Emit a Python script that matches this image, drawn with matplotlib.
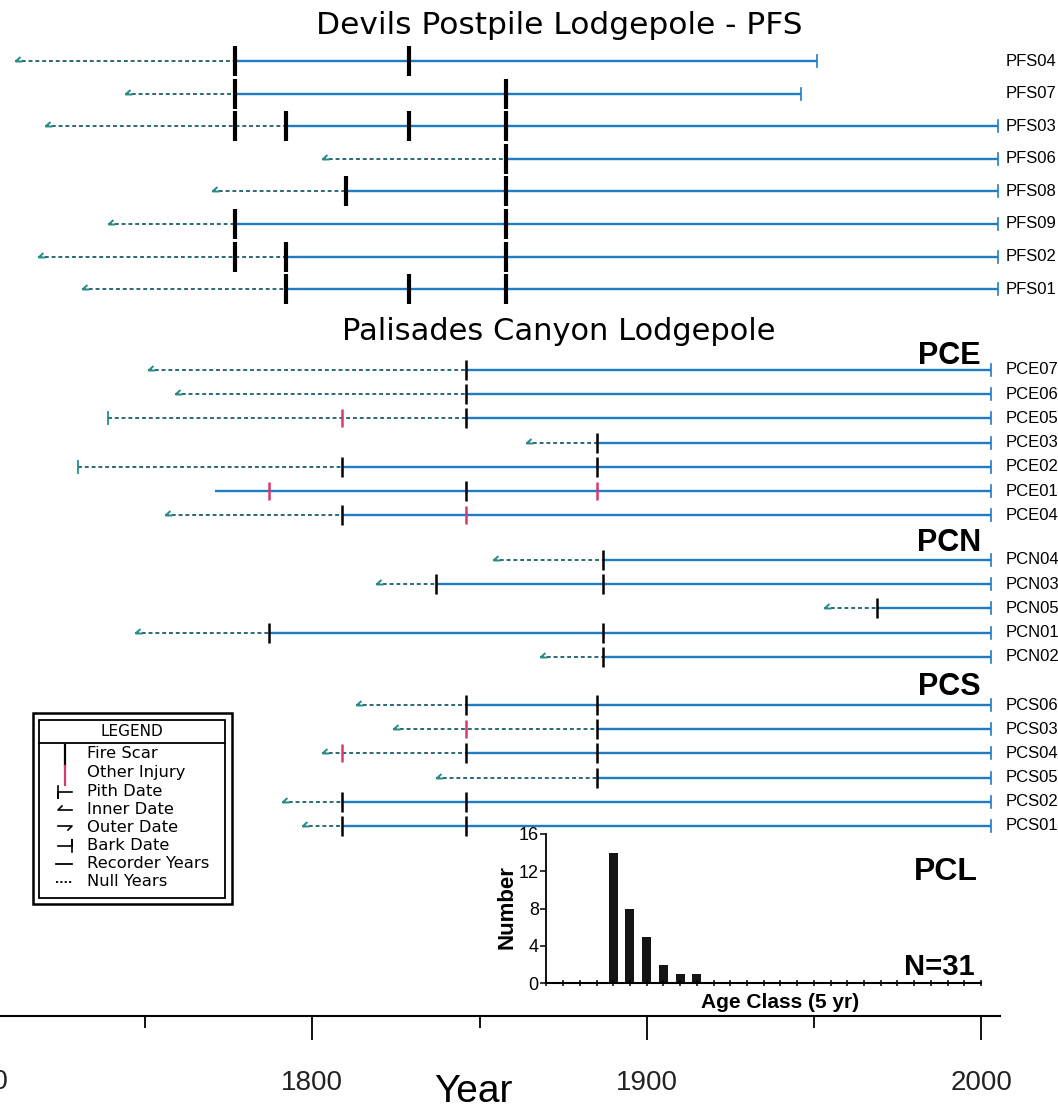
import matplotlib.pyplot as plt
from matplotlib.path import Path
from matplotlib.patches import Rectangle

W, H = 1058, 1111

# ----------------------------------------------------------------
# DATA (years)
# ----------------------------------------------------------------
pfs_names = ['PFS04', 'PFS07', 'PFS03', 'PFS06', 'PFS08', 'PFS09', 'PFS02', 'PFS01']
pfs_inner = [1711, 1744, 1720, 1803, 1770, 1739, 1718, 1731]
pfs_start = [1777, 1777, 1792, 1858, 1810, 1777, 1792, 1792]
pfs_end = [1951, 1946, 2005, 2005, 2005, 2005, 2005, 2005]
pfs_scars = [[1777, 1829], [1777, 1858], [1777, 1792, 1829, 1858], [1858],
             [1810, 1858], [1777, 1858], [1777, 1792, 1858], [1792, 1829, 1858]]

pce_names = ['PCE07', 'PCE06', 'PCE05', 'PCE03', 'PCE02', 'PCE01', 'PCE04']
pce_first = [1751, 1759, 1739, 1864, 1730, None, 1756]
pce_type = ['inner', 'inner', 'pith', 'inner', 'pith', None, 'inner']
pce_start = [1846, 1846, 1846, 1885, 1809, 1771, 1809]
pce_scars = [[1846], [1846], [1846], [1885], [1809, 1885], [1846], [1809]]
pce_injury = [[], [], [1809], [], [], [1787, 1885], [1846]]

pcn_names = ['PCN04', 'PCN03', 'PCN05', 'PCN01', 'PCN02']
pcn_first = [1854, 1819, 1953, 1747, 1868]
pcn_type = ['inner'] * 5
pcn_start = [1887, 1837, 1969, 1787, 1887]
pcn_scars = [[1887], [1837, 1887], [1969], [1787, 1887], [1887]]
pcn_injury = [[], [], [], [], []]

pcs_names = ['PCS06', 'PCS03', 'PCS04', 'PCS05', 'PCS02', 'PCS01']
pcs_first = [1813, 1824, 1803, 1837, 1791, 1797]
pcs_type = ['inner'] * 6
pcs_start = [1846, 1885, 1846, 1885, 1809, 1809]
pcs_scars = [[1846, 1885], [1885], [1846, 1885], [1885], [1809, 1846], [1809, 1846]]
pcs_injury = [[], [1846], [1809], [], [], []]

pc_end = 2003

age_class = [1890, 1895, 1900, 1905, 1910, 1915]
age_count = [14, 8, 5, 2, 1, 1]

# ----------------------------------------------------------------
# STYLE
# ----------------------------------------------------------------
REC_C = '#1f7bc4'
NULL_C = '#2c6878'
ARROW_C = '#2b8c86'
INJ_C = '#d63a6e'
plt.rcParams['font.family'] = ['Liberation Sans', 'DejaVu Sans']

px_per_yr = 3.344
x0 = 1800 - 312.3 / px_per_yr
x1 = x0 + W / px_per_yr


def yr(px):
    return x0 + px / px_per_yr


inner_marker = Path([(0, 0), (1.0, 0.9), (0, 0), (1.4, 0)],
                    [Path.MOVETO, Path.LINETO, Path.MOVETO, Path.LINETO])

fig = plt.figure(figsize=(W / 100, H / 100), dpi=100)
ax = fig.add_axes([0, (H - 1016) / H, 1, 1016 / H])
ax.set_xticks([1800, 1900, 2000])
ax.set_xticks([1750, 1850, 1950], minor=True)
ax.set_xlim(x0, x1)
ax.set_ylim(1016, 0)
for s in ['top', 'left', 'right']:
    ax.spines[s].set_visible(False)
ax.spines['bottom'].set_bounds(x0, yr(1000))
ax.spines['bottom'].set_linewidth(1.5)
ax.set_yticks([])
ax.tick_params(axis='x', which='major', length=17, width=1.3,
               labelsize=20, pad=22, labelcolor='#222')
ax.tick_params(axis='x', which='minor', length=8.5, width=1.3)
ax.patch.set_alpha(0)
# 1700 label sits just past the left edge, only its last digit shows
ax.text(1700, 1082, '1700', ha='center', va='center', fontsize=20,
        color='#222', clip_on=False)


def draw_tree(y, first, ftype, start, end, scars, injuries, sh, slw):
    if first is not None:
        ax.plot([first, start], [y, y], ls=(0, (2, 1.5)), color=NULL_C, lw=1.4)
        if ftype == 'inner':
            ax.plot(first, y, marker=inner_marker, ms=10, color=ARROW_C,
                    mew=1.4, ls='none')
        else:
            ax.plot([first, first], [y - 6, y + 6], color=ARROW_C, lw=1.3)
    ax.plot([start, end], [y, y], color=REC_C, lw=1.7, solid_capstyle='butt')
    ax.plot([end, end], [y - 6, y + 6], color=REC_C, lw=1.2)
    for s in scars:
        ax.plot([s, s], [y - sh, y + sh], color='black', lw=slw, zorder=4,
                solid_capstyle='butt')
    for s in injuries:
        ax.plot([s, s], [y - sh + 1, y + sh - 1], color=INJ_C, lw=slw,
                zorder=4, solid_capstyle='butt')


def label(y, name):
    ax.text(yr(1006), y, name, va='center', ha='left', fontsize=12,
            clip_on=False)


# PFS
for i, n in enumerate(pfs_names):
    y = 61 + 32.6 * i
    draw_tree(y, pfs_inner[i], 'inner', pfs_start[i], pfs_end[i],
              pfs_scars[i], [], 15, 3.0)
    label(y, n)

# Palisades groups
groups = [
    (370, pce_names, pce_first, pce_type, pce_start, pce_scars, pce_injury, 'PCE', 356),
    (560, pcn_names, pcn_first, pcn_type, pcn_start, pcn_scars, pcn_injury, 'PCN', 543),
    (705, pcs_names, pcs_first, pcs_type, pcs_start, pcs_scars, pcs_injury, 'PCS', 687),
]
for y0, names, first, ftype, start, scars, inj, tag, ty in groups:
    for i, n in enumerate(names):
        y = y0 + 24.2 * i
        draw_tree(y, first[i], ftype[i], start[i], pc_end, scars[i], inj[i], 10, 1.8)
        label(y, n)
    ax.text(yr(981), ty, tag, ha='right', va='center', fontsize=22,
            fontweight='bold')

# titles
ax.text(yr(559), 25, 'Devils Postpile Lodgepole - PFS', ha='center',
        va='center', fontsize=22.5, family='DejaVu Sans')
ax.text(yr(559), 331, 'Palisades Canyon Lodgepole', ha='center',
        va='center', fontsize=22, family='DejaVu Sans')
fig.text(473 / W, 1 - 1092 / H, 'Year', ha='center', va='center', fontsize=28)

# ----------------------------------------------------------------
# LEGEND (drawn in pixel space)
# ----------------------------------------------------------------
ov = fig.add_axes([0, 0, 1, 1])
ov.set_xlim(0, W)
ov.set_ylim(H, 0)
ov.axis('off')
ov.add_patch(Rectangle((33, 713), 199, 191, fill=False, lw=1.8, ec='black'))
ov.add_patch(Rectangle((39, 720), 186, 178, fill=False, lw=1.3, ec='black'))
ov.plot([39, 225], [743, 743], color='black', lw=1.3)
ov.text(132, 732, 'LEGEND', ha='center', va='center', fontsize=11,
        family='DejaVu Sans')
leg_items = ['Fire Scar', 'Other Injury', 'Pith Date', 'Inner Date',
             'Outer Date', 'Bark Date', 'Recorder Years', 'Null Years']
leg_y = [754, 773, 792, 810, 828, 846, 864, 882]
for t, y in zip(leg_items, leg_y):
    ov.text(87, y, t, ha='left', va='center', fontsize=11.8,
            family='DejaVu Sans')
ov.plot([65, 65], [745, 766], color='black', lw=1.6)
ov.plot([65, 65], [766, 785], color=INJ_C, lw=1.6)
ov.plot([58, 58, 58, 72], [786, 798, 792, 792], color='black', lw=1.2)
ov.plot([62, 58, 72], [806, 810, 810], color='black', lw=1.2)
ov.plot([58, 72, 68], [826, 826, 830], color='black', lw=1.2)
ov.plot([58, 72, 72, 72], [846, 846, 840, 852], color='black', lw=1.2)
ov.plot([56, 72], [864, 864], color='black', lw=1.3)
ov.plot([56, 72], [882, 882], color='black', lw=1.3, ls=(0, (1.2, 1.2)))

# ----------------------------------------------------------------
# INSET AGE-CLASS HISTOGRAM
# ----------------------------------------------------------------
ins = fig.add_axes([546.4 / W, (H - 983.3) / H, (981 - 546.4) / W,
                    (983.3 - 834) / H])
ins.bar(age_class, age_count, width=2.7, color='#151515')
ins.set_xticks(range(1870, 2001, 5))
ins.set_xticklabels([])
ins.set_xlim(1870, 2000)
ins.set_ylim(0, 16)
ins.set_yticks([0, 4, 8, 12, 16])
ins.spines['top'].set_visible(False)
ins.spines['right'].set_visible(False)
ins.spines['left'].set_linewidth(1.3)
ins.spines['bottom'].set_linewidth(1.5)
ins.tick_params(axis='y', length=4, width=1.1, labelsize=13, pad=1.5)
ins.tick_params(axis='x', length=4, width=1.1, direction='inout')
ins.patch.set_alpha(0)
ov.text(507, 907, 'Number', rotation=90, ha='center', va='center',
        fontsize=16, fontweight='bold')
ov.text(780, 1002, 'Age Class (5 yr)', ha='center', va='center',
        fontsize=15, fontweight='bold')
ov.text(946, 872, 'PCL', ha='center', va='center', fontsize=23,
        fontweight='bold')
ov.text(975, 967, 'N=31', ha='right', va='center', fontsize=21,
        fontweight='bold')

fig.savefig('out.png', dpi=100)
